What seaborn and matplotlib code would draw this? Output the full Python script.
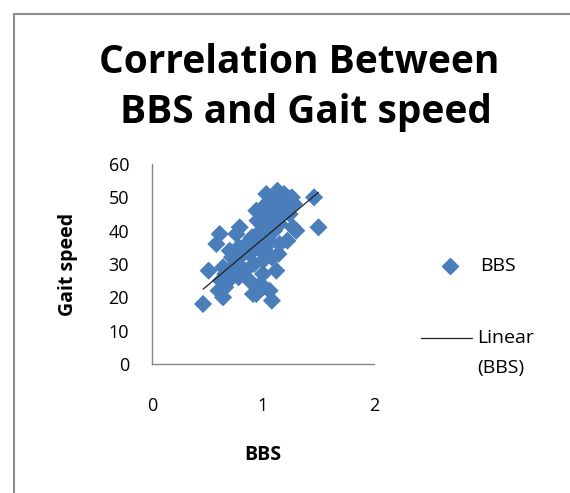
import numpy as np
import pandas as pd
import matplotlib
matplotlib.use("Agg")
import matplotlib.pyplot as plt
import seaborn as sns
from matplotlib.lines import Line2D

# values (BBS, Gait speed); many markers overlap in the dense middle
bbs = [0.46, 0.60, 0.64, 0.51, 0.61, 0.58, 1.46, 1.50, 1.08, 1.06, 0.91, 1.13, 1.03, 1.26, 0.94,
       0.79, 0.76, 0.94, 1.12, 0.88, 0.78, 1.00, 1.27, 1.30, 1.24, 1.22, 1.14, 1.08, 1.15, 0.70,
       0.64,
       1.10, 1.15, 1.20, 1.05, 1.18, 1.22, 1.08, 1.19, 1.28, 1.12, 1.00, 1.02, 1.06, 0.98, 1.10,
       1.15, 1.05, 0.95, 0.90, 0.85, 0.82, 0.88, 0.92, 0.98, 1.02, 0.75, 0.70, 0.66, 0.80, 0.72,
       0.78, 0.95, 0.92, 1.00, 0.98,
       1.12, 1.16, 1.22, 1.25, 1.06, 1.14, 0.62, 0.68, 0.72, 0.76, 0.66, 0.84, 1.00]
gait = [18, 22, 20, 28, 39, 36, 50, 41, 19, 22, 21, 52, 51, 50, 46,
        41, 39, 21, 28, 25, 26, 27, 41, 40, 45, 37, 33, 32, 36, 34,
        29,
        48, 50, 48, 47, 45, 47, 50, 51, 48, 45, 44, 41, 42, 40, 40,
        42, 37, 37, 38, 36, 33, 33, 35, 34, 35, 30, 28, 27, 29, 32,
        35, 43, 30, 31, 24,
        50, 48, 50, 48, 49, 46, 25, 25, 26, 27, 23, 28, 47]

df = pd.DataFrame({"BBS": bbs, "Gait speed": gait})

sns.set_style("white")
plt.rcParams["font.family"] = ["Open Sans", "DejaVu Sans"]
plt.rcParams["text.color"] = "black"

fig = plt.figure(figsize=(5.7, 4.93), dpi=100)
ax = fig.add_axes([152/570, 1-364/493, 222/570, 200/493])

blue = "#4A7EBB"
trend = "#222222"
sns.scatterplot(data=df, x="BBS", y="Gait speed", marker="D", s=85, color=blue,
                edgecolor="none", linewidth=0, ax=ax, legend=False, zorder=2)
sns.regplot(data=df, x="BBS", y="Gait speed", scatter=False, ci=None, ax=ax,
            line_kws={"color": trend, "lw": 0.9, "zorder": 3})

ax.set_xlim(0, 2)
ax.set_ylim(0, 60)
ax.set_xticks([0, 1, 2])
ax.set_yticks(range(0, 61, 10))
for s in ["top", "right"]:
    ax.spines[s].set_visible(False)
for s in ["left", "bottom"]:
    ax.spines[s].set_color("#868686")
    ax.spines[s].set_linewidth(1.0)
ax.tick_params(axis="both", direction="out", length=5, width=1, color="#868686",
               labelsize=13, labelcolor="black", pad=11.5)
ax.tick_params(axis="x", pad=19)
ax.set_xlabel("BBS", fontsize=14, fontweight="bold", labelpad=21, color="black")
ax.set_ylabel("Gait speed", fontsize=14, fontweight="bold", labelpad=22, color="black")

fig.text(299/570, 1-73/493, "Correlation Between", ha="center", va="baseline",
         fontsize=28, fontweight="bold")
fig.text(306/570, 1-123/493, "BBS and Gait speed", ha="center", va="baseline",
         fontsize=28, fontweight="bold")

# legend, laid out like the original
fig.add_artist(Line2D([450/570], [1-266/493], transform=fig.transFigure, marker="D",
                      color=blue, ls="none", markersize=8.5))
fig.text(480/570, 1-266/493, "BBS", fontsize=14, va="center")
fig.add_artist(Line2D([421/570, 472/570], [1-338/493, 1-338/493], transform=fig.transFigure,
                      color=trend, lw=0.9))
fig.text(477/570, 1-338/493, "Linear", fontsize=14, va="center")
fig.text(477/570, 1-368/493, "(BBS)", fontsize=14, va="center")

# chart frame (left and top edges visible)
fig.add_artist(Line2D([14/570, 14/570], [0, 1-14/493], transform=fig.transFigure, color="#8c8c8c", lw=1.5))
fig.add_artist(Line2D([14/570, 1], [1-14/493, 1-14/493], transform=fig.transFigure, color="#8c8c8c", lw=1.5))

fig.savefig("out.png", dpi=100)
